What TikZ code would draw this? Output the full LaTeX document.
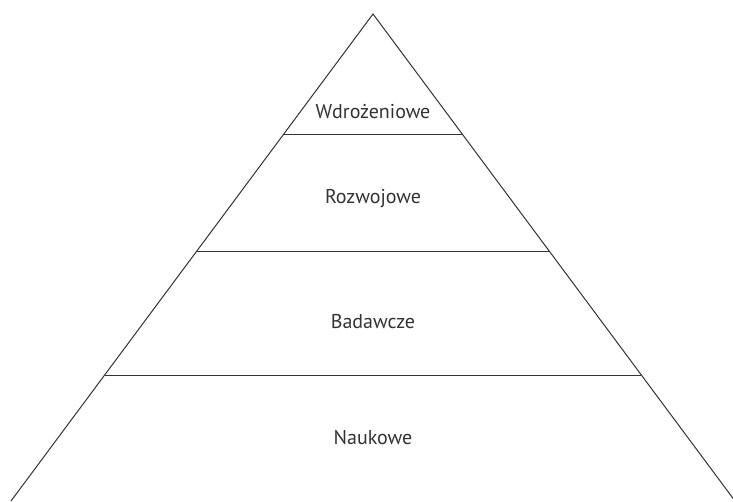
\documentclass[tikz,border=0pt]{standalone}
\usepackage{fontspec}
\setmainfont{PT Sans}
\usetikzlibrary{positioning, calc}

\definecolor{linegray}{HTML}{333333}
\definecolor{textgray}{HTML}{333333}

\begin{document}
\begin{tikzpicture}[x=1pt, y=-1pt, font=\fontsize{20}{24}\selectfont]
    \tikzstyle{level} = [draw=linegray, line width=1pt]
    \tikzstyle{lab} = [draw=none, fill=none, text=textgray, anchor=center]
    \useasboundingbox (0,0) rectangle (733,501);
    % corners of the pyramid
    \coordinate (apex) at (373,14);
    \coordinate (bl) at (11,501);
    \coordinate (br) at (735,501);
    \draw[level] (bl) -- (apex) -- (br);
    % level lines
    \coordinate (l1) at ($(apex)!0.2464!(bl)$);
    \coordinate (r1) at ($(apex)!0.2464!(br)$);
    \coordinate (l2) at ($(apex)!0.4867!(bl)$);
    \coordinate (r2) at ($(apex)!0.4867!(br)$);
    \coordinate (l3) at ($(apex)!0.7413!(bl)$);
    \coordinate (r3) at ($(apex)!0.7413!(br)$);
    \draw[level] (l1) -- (r1);
    \draw[level] (l2) -- (r2);
    \draw[level] (l3) -- (r3);
    % labels
    \node[lab] (wdr) at (373,112) {Wdrożeniowe};
    \node[lab] (roz) at (373,199) {Rozwojowe};
    \node[lab] (bad) at (373,322) {Badawcze};
    \node[lab] (nau) at (373,438) {Naukowe};
\end{tikzpicture}
\end{document}
